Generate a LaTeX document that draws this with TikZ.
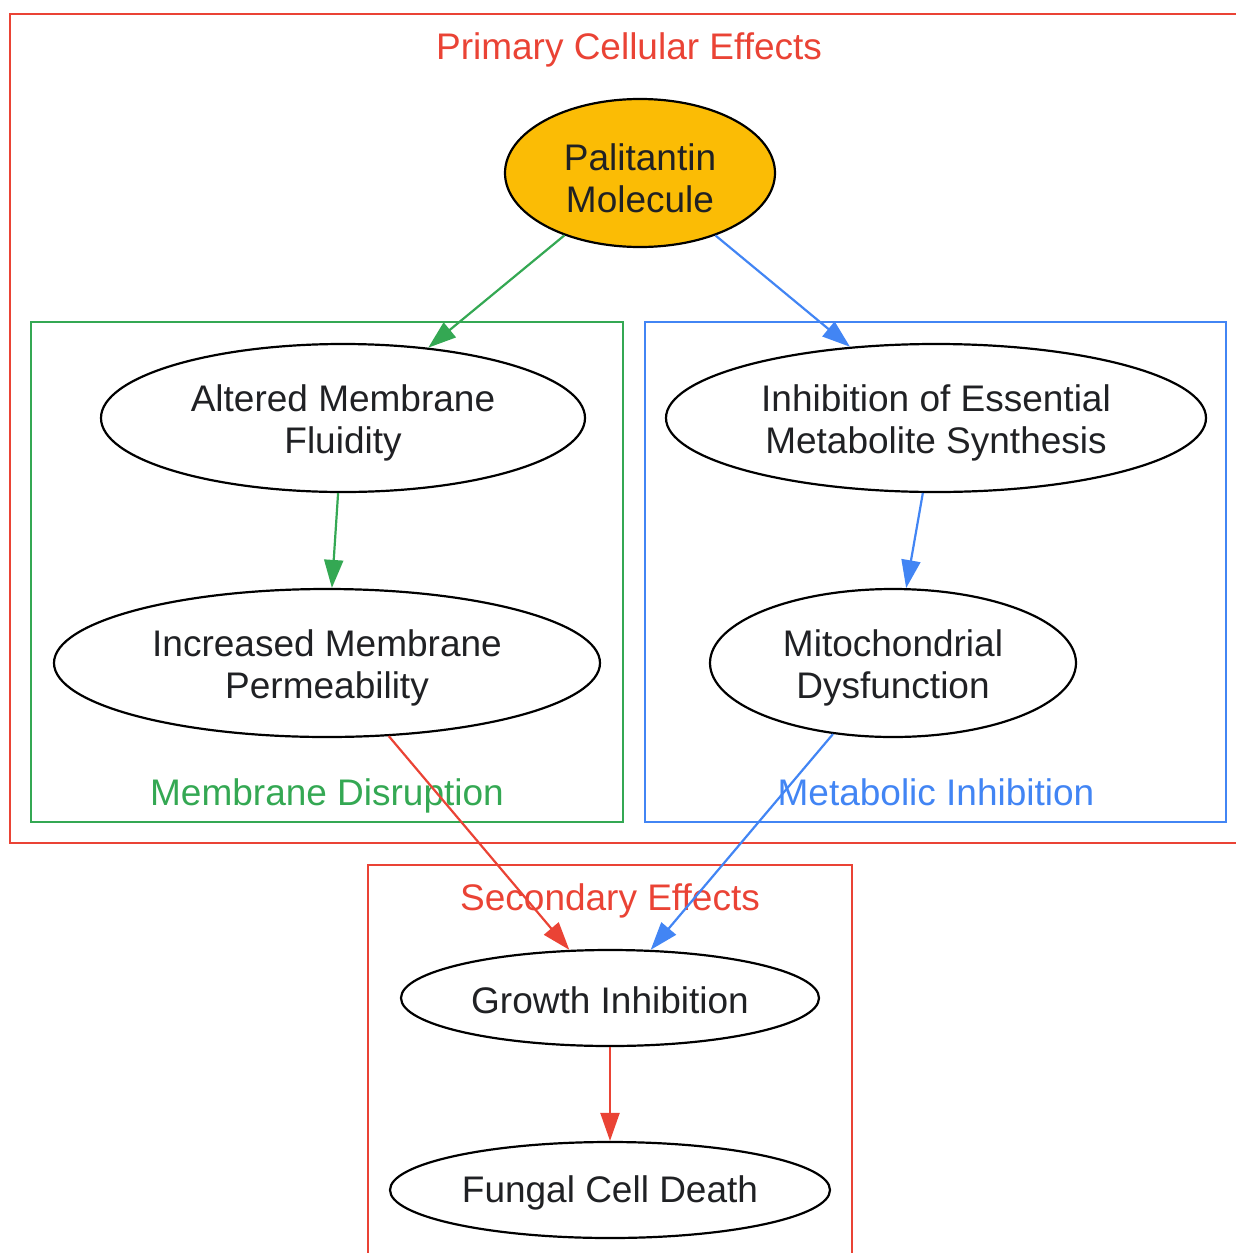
\documentclass[tikz,border=0pt]{standalone}
\usepackage{fontspec}
\setmainfont{Liberation Sans}
\usetikzlibrary{shapes.geometric,arrows.meta}
\definecolor{gred}{HTML}{EA4335}
\definecolor{ggreen}{HTML}{34A853}
\definecolor{gblue}{HTML}{4285F4}
\definecolor{gyellow}{HTML}{FBBC05}
\definecolor{txt}{HTML}{202124}
\newcommand\hstrut{\rule{0pt}{37pt}}

\begin{document}
\begin{tikzpicture}[x=1pt,y=-1pt,font=\fontsize{37}{42}\selectfont,
  ev/.style={ellipse,draw=black,line width=2.2pt,inner sep=0pt,align=center,text=txt,minimum height=148pt},
  cl/.style={line width=2.2pt},
  lb/.style={anchor=base},
  ar/.style={line width=2.2pt,-{Triangle[length=28pt,width=19pt]}}]
  \clip (0,0) rectangle (1236,1253);

  % clusters
  \draw[cl,gred] (10,14) rectangle (1250,843);
  \draw[cl,ggreen] (31,322) rectangle (623,822);
  \draw[cl,gblue] (645,322) rectangle (1226,822);
  \draw[cl,gred] (368,865) rectangle (852,1270);
  \node[lb,text=gred] (tprim) at (629,59) {Primary Cellular Effects};
  \node[lb,text=ggreen] (tmem) at (327,805) {Membrane Disruption};
  \node[lb,text=gblue] (tmet) at (936,805) {Metabolic Inhibition};
  \node[lb,text=gred] (tsec) at (610,910) {Secondary Effects};

  % nodes
  \node[ev,fill=gyellow,minimum width=270pt] (pal) at (640,173) {\hstrut Palitantin\\Molecule};
  \node[ev,minimum width=484pt] (fluid) at (343,418) {\hstrut Altered Membrane\\Fluidity};
  \node[ev,minimum width=540pt] (synth) at (936,418) {\hstrut Inhibition of Essential\\Metabolite Synthesis};
  \node[ev,minimum width=546pt] (perm) at (327,663) {\hstrut Increased Membrane\\Permeability};
  \node[ev,minimum width=366pt] (mito) at (893,663) {\hstrut Mitochondrial\\Dysfunction};
  \node[ev,minimum width=418pt,minimum height=96pt] (growth) at (610,998) {\rule{0pt}{31pt}Growth Inhibition};
  \node[ev,minimum width=440pt,minimum height=96pt] (death) at (610,1190) {\rule{0pt}{33pt}Fungal Cell Death};

  % edges
  \draw[ar,ggreen] (pal) -- (fluid);
  \draw[ar,gblue] (pal) -- (synth);
  \draw[ar,ggreen] (fluid) -- (perm);
  \draw[ar,gblue] (synth) -- (mito);
  \draw[ar,gred] (perm) -- (growth);
  \draw[ar,gblue] (mito) -- (growth);
  \draw[ar,gred] (growth) -- (death);
\end{tikzpicture}
\end{document}
